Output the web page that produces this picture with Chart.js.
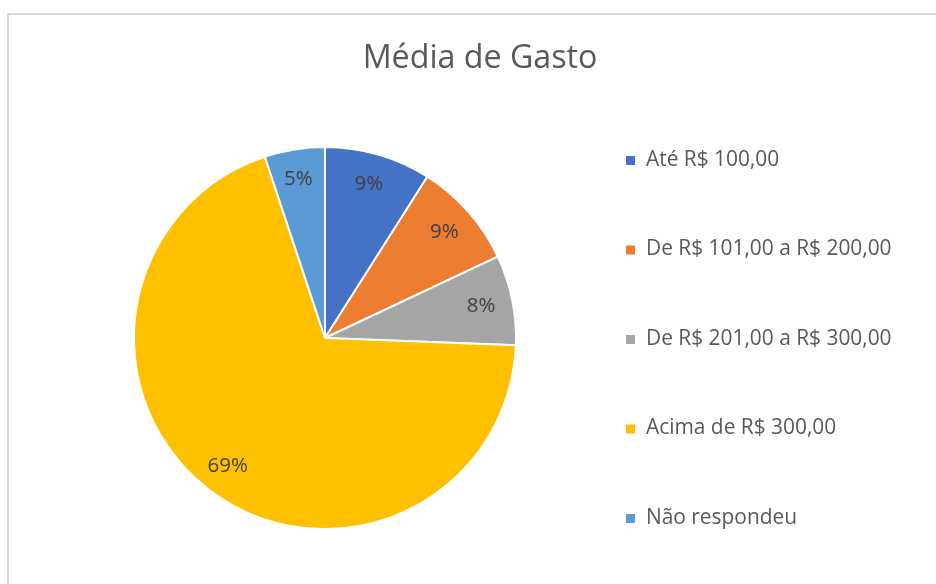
<!DOCTYPE html>
<html>
<head>
<meta charset="utf-8">
<script src="https://cdn.jsdelivr.net/npm/chart.js@4"></script>
<style>
  body { margin: 0; background: #fff; overflow: hidden; }
  .frame { position: absolute; left: 7px; top: 13px; width: 1000px; height: 1000px; border: 2px solid #d9d9d9; }
  #wrap { position: absolute; left: 0; top: 0; width: 936px; height: 584px; }
</style>
</head>
<body>
<div class="frame"></div>
<div id="wrap"><canvas id="gastoChart" width="936" height="584"></canvas></div>
<script>
/* ===================== DADOS ===================== */
const categorias = ['Até R$ 100,00', 'De R$ 101,00 a R$ 200,00', 'De R$ 201,00 a R$ 300,00', 'Acima de R$ 300,00', 'Não respondeu'];
const valores = [9.0, 9.0, 7.6, 69.3, 5.1];
const cores = ['#4472C4', '#ED7D31', '#A5A5A5', '#FFC000', '#5B9BD5'];
const titulo = 'Média de Gasto';

const fonte = '"Segoe UI", "Open Sans", "Noto Sans", sans-serif';

/* ===================== PLUGIN - TITULO, LEGENDA E RÓTULOS ===================== */
const extras = {
  id: 'extras',
  afterDraw(chart) {
    const ctx = chart.ctx;
    const meta = chart.getDatasetMeta(0);
    const total = valores.reduce((a, b) => a + b, 0);

    ctx.save();

    // rótulos das fatias
    ctx.fillStyle = '#404040';
    ctx.font = '20.5px ' + fonte;
    ctx.textAlign = 'center';
    ctx.textBaseline = 'middle';
    meta.data.forEach((arc, i) => {
      const p = arc.getProps(['x', 'y', 'startAngle', 'endAngle', 'outerRadius'], true);
      const meio = (p.startAngle + p.endAngle) / 2;
      const r = p.outerRadius * 0.84;
      const txt = Math.round(valores[i] / total * 100) + '%';
      ctx.fillText(txt, p.x + Math.cos(meio) * r - 1, p.y + Math.sin(meio) * r);
    });

    // titulo
    ctx.fillStyle = '#595959';
    ctx.font = '32.2px ' + fonte;
    ctx.fillText(titulo, 480, 59);

    // legenda
    ctx.font = '20.9px ' + fonte;
    ctx.textAlign = 'left';
    categorias.forEach((cat, i) => {
      const y = 160 + i * 89.5;
      ctx.fillStyle = cores[i];
      ctx.fillRect(626, y - 4, 9, 9);
      ctx.fillStyle = '#595959';
      ctx.fillText(cat, 646, y);
    });

    ctx.restore();
  }
};

/* ===================== GRAFICO ===================== */
new Chart(document.getElementById('gastoChart'), {
  type: 'pie',
  data: {
    labels: categorias,
    datasets: [{
      data: valores,
      backgroundColor: cores,
      borderColor: '#ffffff',
      borderWidth: 2
    }]
  },
  options: {
    responsive: false,
    animation: false,
    events: [],
    layout: {
      padding: { left: 133, right: 419, top: 146, bottom: 54 }
    },
    plugins: {
      legend: { display: false },
      title: { display: false },
      tooltip: { enabled: false }
    }
  },
  plugins: [extras]
});
</script>
</body>
</html>
